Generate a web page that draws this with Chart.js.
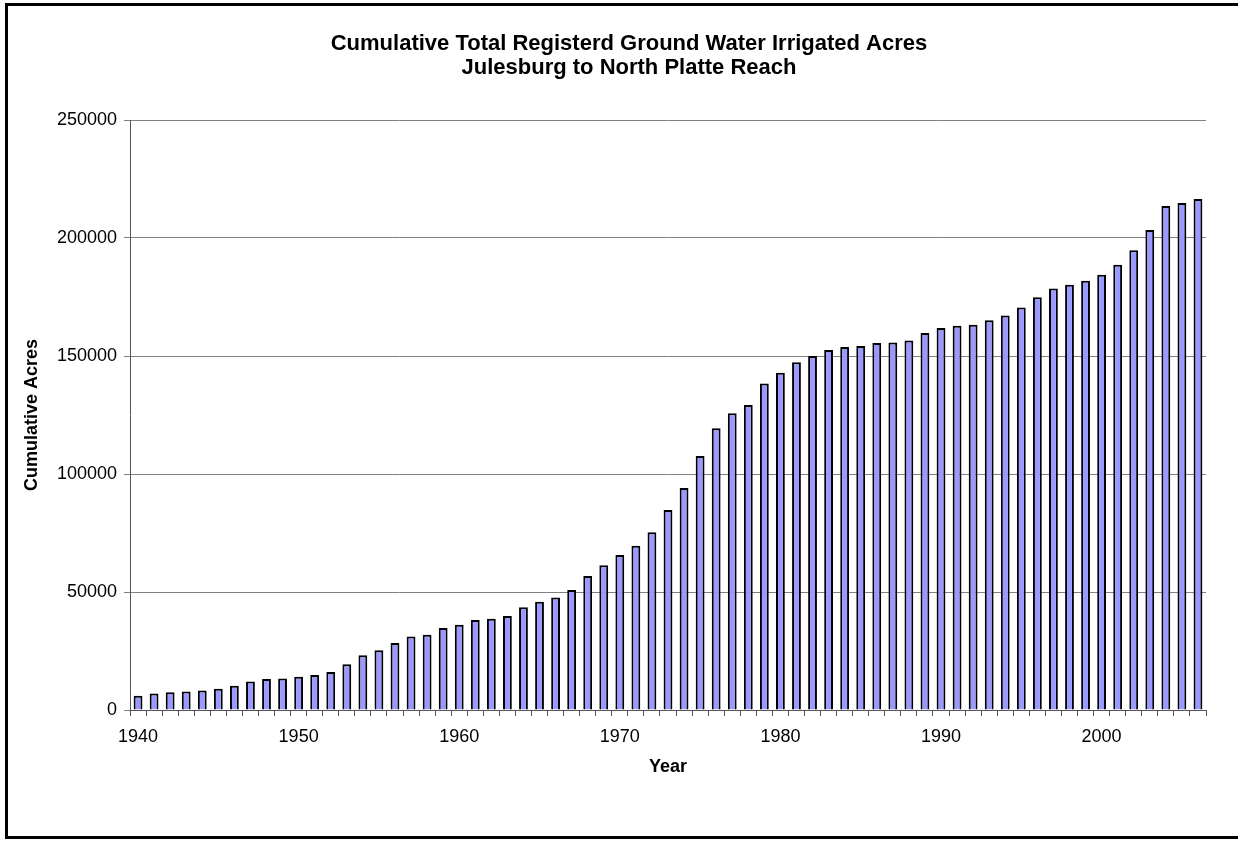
<!DOCTYPE html>
<html>
<head>
<meta charset="utf-8">
<title>Cumulative Total Registerd Ground Water Irrigated Acres</title>
<script src="https://cdn.jsdelivr.net/npm/chart.js@4.4.1/dist/chart.umd.min.js"></script>
<style>
  html, body { margin: 0; padding: 0; background: #fff; }
  #wrap { position: relative; width: 1238px; height: 842px; }
</style>
</head>
<body>
<div id="wrap"><canvas id="acresChart"></canvas></div>
<script>
// anos e acres acumulados
const years = [
  1940, 1941, 1942, 1943, 1944, 1945, 1946, 1947, 1948, 1949,
  1950, 1951, 1952, 1953, 1954, 1955, 1956, 1957, 1958, 1959,
  1960, 1961, 1962, 1963, 1964, 1965, 1966, 1967, 1968, 1969,
  1970, 1971, 1972, 1973, 1974, 1975, 1976, 1977, 1978, 1979,
  1980, 1981, 1982, 1983, 1984, 1985, 1986, 1987, 1988, 1989,
  1990, 1991, 1992, 1993, 1994, 1995, 1996, 1997, 1998, 1999,
  2000, 2001, 2002, 2003, 2004, 2005, 2006
];
const cumulativeAcres = [
  6000, 7000, 7500, 7800, 8300, 9000, 10300, 12100, 13100, 13400,
  14100, 14800, 16100, 19400, 23200, 25300, 28400, 31100, 31900, 34700,
  36100, 38100, 38700, 39800, 43500, 45900, 47700, 50800, 56800, 61300,
  65700, 69600, 75300, 84700, 94100, 107600, 119400, 125700, 129200, 138300,
  142900, 147300, 150000, 152500, 153800, 154200, 155500, 155700, 156600, 159700,
  161900, 162800, 163200, 165200, 167200, 170500, 174900, 178600, 180200, 181900,
  184400, 188700, 194800, 203400, 213600, 214800, 216500
];
const yTicks = [0, 50000, 100000, 150000, 200000, 250000];
const titleLines = ['Cumulative Total Registerd Ground Water Irrigated Acres', 'Julesburg to North Platte Reach'];

const FONT = 'Liberation Sans, Arial, Helvetica, sans-serif';
const GRAY = '#808080';

// título em duas linhas + moldura preta (lado direito fica fora da área)
const frameAndTitle = {
  id: 'frameAndTitle',
  afterDraw(chart) {
    const ctx = chart.ctx;
    ctx.save();
    ctx.fillStyle = '#000';
    ctx.font = 'bold 22px ' + FONT;
    ctx.textAlign = 'center';
    ctx.textBaseline = 'middle';
    ctx.fillText(titleLines[0], 629, 44);
    ctx.fillText(titleLines[1], 629, 68);
    ctx.lineWidth = 3;
    ctx.strokeStyle = '#000';
    ctx.strokeRect(6.5, 4.5, 1240, 833);
    ctx.restore();
  }
};

const ctx = document.getElementById('acresChart').getContext('2d');
const acresChart = new Chart(ctx, {
  type: 'bar',
  data: {
    labels: years,
    datasets: [{
      label: 'Cumulative Acres',
      data: cumulativeAcres,
      backgroundColor: '#9999FF',
      borderColor: '#000',
      borderWidth: 2,
      categoryPercentage: 1,
      barPercentage: 0.55
    }]
  },
  options: {
    responsive: true,
    maintainAspectRatio: false,
    devicePixelRatio: 1,
    animation: false,
    layout: { padding: { left: 20, right: 32, top: 120, bottom: 0 } },
    plugins: {
      legend: { display: false },
      title: { display: false },
      tooltip: { enabled: false }
    },
    scales: {
      x: {
        afterFit(scale) { scale.height = 132; },
        grid: { display: true, drawOnChartArea: false, drawTicks: true, tickLength: 6, color: '#555', offset: true },
        border: { color: '#555', width: 1 },
        ticks: {
          autoSkip: false,
          maxRotation: 0,
          padding: 10,
          color: '#000',
          font: { family: FONT, size: 18 },
          callback: (value, index) => (years[index] % 10 === 0 ? String(years[index]) : '')
        },
        title: {
          display: true,
          text: 'Year',
          color: '#000',
          font: { family: FONT, size: 18, weight: 'bold' },
          padding: { top: 0, bottom: 64 }
        }
      },
      y: {
        min: 0,
        max: 250000,
        afterFit(scale) { scale.width = 110; },
        afterBuildTicks(scale) { scale.ticks = yTicks.map(v => ({ value: v })); },
        grid: { color: GRAY, tickLength: 6, drawTicks: true },
        border: { color: '#555', width: 1 },
        ticks: {
          padding: 7,
          color: '#000',
          font: { family: FONT, size: 18 },
          callback: v => String(v)
        },
        title: {
          display: true,
          text: 'Cumulative Acres',
          color: '#000',
          font: { family: FONT, size: 18, weight: 'bold' },
          padding: { top: 1, bottom: 0 }
        }
      }
    }
  },
  plugins: [frameAndTitle]
});
</script>
</body>
</html>
